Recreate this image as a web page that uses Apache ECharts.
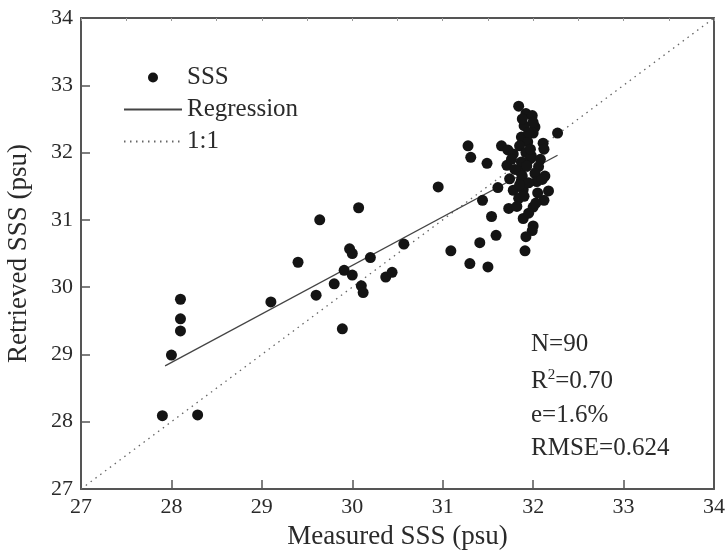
<!DOCTYPE html>
<html>
<head>
<meta charset="utf-8">
<script src="https://cdn.jsdelivr.net/npm/echarts@6/dist/echarts.min.js"></script>
<style>
html,body{margin:0;padding:0;background:#fff;}
#chart{width:726px;height:552px;}
</style>
</head>
<body>
<div id="chart"></div>
<script>
// Measured SSS (x) and Retrieved SSS (y), psu
var measured = [
  28.10, 28.10, 28.10, 29.10, 29.40, 29.64, 30.07, 29.60, 29.80, 29.89,
  29.91, 29.97, 30.00, 30.00, 30.10, 30.12, 30.20, 30.37, 30.44, 30.57,
  28.00, 27.90, 28.29,
  31.84, 31.92, 31.99, 32.02, 32.27, 32.00, 31.87, 31.28, 31.31, 31.65,
  31.72, 31.78, 31.94, 32.11, 32.12, 31.49, 31.71, 31.87, 31.97, 32.06,
  31.86, 32.02, 32.13, 32.04, 31.74, 31.87, 30.95, 31.61, 31.78, 31.89,
  32.17, 31.84, 31.44, 32.12, 31.73, 32.00, 31.89, 31.54, 32.00, 31.99,
  31.92, 31.59, 31.41, 31.09, 31.91, 31.30, 31.50,
  31.90, 31.95, 31.85, 31.92, 31.98, 31.80, 31.88, 31.95, 32.05, 31.90,
  31.82, 31.95, 32.08, 31.93, 32.00, 31.88, 31.76, 32.10, 31.85, 31.97,
  32.03
];
var retrieved = [
  29.82, 29.53, 29.35, 29.78, 30.37, 31.00, 31.18, 29.88, 30.05, 29.38,
  30.25, 30.57, 30.50, 30.18, 30.02, 29.92, 30.44, 30.15, 30.22, 30.64,
  28.99, 28.09, 28.10,
  32.69, 32.58, 32.55, 32.38, 32.29, 32.29, 32.23, 32.10, 31.93, 32.10,
  32.04, 31.98, 32.16, 32.14, 32.05, 31.84, 31.81, 31.86, 31.91, 31.79,
  31.71, 31.69, 31.65, 31.57, 31.61, 31.59, 31.49, 31.48, 31.44, 31.45,
  31.43, 31.32, 31.29, 31.29, 31.17, 31.19, 31.02, 31.05, 30.91, 30.84,
  30.75, 30.77, 30.66, 30.54, 30.54, 30.35, 30.30,
  32.40, 32.30, 32.10, 32.00, 31.95, 31.75, 31.65, 31.55, 31.40, 31.35,
  31.20, 31.10, 31.90, 31.80, 32.45, 32.50, 31.90, 31.60, 31.52, 32.05,
  31.25
];
// Regression line end points and 1:1 line
var regressionX = [27.93, 32.27];
var regressionY = [28.83, 31.96];
var oneToOneX = [27, 34];
var oneToOneY = [27, 34];
var xTicks = [27, 28, 29, 30, 31, 32, 33, 34];
var yTicks = [27, 28, 29, 30, 31, 32, 33, 34];
var stats = ['N=90', 'R2=0.70', 'e=1.6%', 'RMSE=0.624'];

var FONT = '"Liberation Serif", "DejaVu Serif", serif';
var AX = '#555';
var TXT = '#2a2a2a';

var pts = measured.map(function (v, i) { return [v, retrieved[i]]; });
var reg = regressionX.map(function (v, i) { return [v, regressionY[i]]; });
var one = oneToOneX.map(function (v, i) { return [v, oneToOneY[i]]; });

var chart = echarts.init(document.getElementById('chart'), null, {renderer: 'canvas'});
var labelStyle = {fontFamily: FONT, fontSize: 22, color: TXT};

chart.setOption({
  animation: false,
  backgroundColor: '#fff',
  grid: {left: 81, right: 12, top: 18, bottom: 63, containLabel: false, outerBoundsMode: 'none'},
  xAxis: [{
    type: 'value', min: xTicks[0], max: xTicks[xTicks.length - 1], interval: 1,
    name: 'Measured SSS (psu)', nameLocation: 'middle', nameGap: 34, nameMoveOverlap: false,
    nameTextStyle: {fontFamily: FONT, fontSize: 27, color: TXT},
    axisLine: {show: true, onZero: false, lineStyle: {color: AX, width: 2}},
    axisTick: {show: true, inside: true, length: 9, lineStyle: {color: AX, width: 1.5}},
    axisLabel: Object.assign({margin: 7}, labelStyle),
    splitLine: {show: false}
  }, {
    type: 'value', position: 'top', min: 27, max: 34, interval: 0.5,
    axisLine: {show: true, onZero: false, lineStyle: {color: AX, width: 2}},
    axisTick: {show: true, inside: true, length: 3, lineStyle: {color: '#999', width: 1}},
    axisLabel: {show: false}, splitLine: {show: false}
  }],
  yAxis: [{
    type: 'value', min: yTicks[0], max: yTicks[yTicks.length - 1], interval: 1,
    name: 'Retrieved SSS (psu)', nameLocation: 'middle', nameGap: 49, nameMoveOverlap: false,
    nameTextStyle: {fontFamily: FONT, fontSize: 27, color: TXT},
    axisLine: {show: true, onZero: false, lineStyle: {color: AX, width: 2}},
    axisTick: {show: true, inside: true, length: 9, lineStyle: {color: AX, width: 1.5}},
    axisLabel: Object.assign({margin: 8}, labelStyle),
    splitLine: {show: false}
  }, {
    type: 'value', position: 'right', min: 27, max: 34, interval: 1,
    axisLine: {show: true, onZero: false, lineStyle: {color: AX, width: 2}},
    axisTick: {show: false}, axisLabel: {show: false}, splitLine: {show: false}
  }],
  legend: {
    orient: 'vertical', left: 118, top: 60, itemWidth: 58, itemHeight: 10, itemGap: 7,
    textStyle: {fontFamily: FONT, fontSize: 25, color: TXT},
    data: [
      {name: 'SSS', icon: 'circle'},
      {name: 'Regression', itemStyle: {opacity: 0}},
      {name: '1:1', itemStyle: {opacity: 0}}
    ]
  },
  series: [
    {
      name: '1:1', type: 'line', data: one, symbol: 'none', silent: true,
      itemStyle: {color: '#666'},
      lineStyle: {color: '#666', width: 1.3, type: [1.5, 4.5]}, z: 1
    },
    {
      name: 'Regression', type: 'line', data: reg, symbol: 'none', silent: true,
      itemStyle: {color: '#444'},
      lineStyle: {color: '#444', width: 1.3}, z: 2
    },
    {
      name: 'SSS', type: 'scatter', data: pts, symbol: 'circle', symbolSize: 11,
      itemStyle: {color: '#141414', opacity: 1}, z: 3
    }
  ],
  graphic: [{
    type: 'group', left: 531, top: 332,
    children: [
      {type: 'text', left: 0, top: 0, style: {text: stats[0], font: '25px ' + FONT, fill: TXT}},
      {type: 'text', left: 0, top: 36, style: {
        text: '{b|R}{s|2}{b|=0.70}',
        rich: {
          b: {font: '25px ' + FONT, fill: TXT, color: TXT},
          s: {font: '15px ' + FONT, fill: TXT, color: TXT, verticalAlign: 'top', padding: [0, 0, 12, 0]}
        }
      }},
      {type: 'text', left: 0, top: 71, style: {text: stats[2], font: '25px ' + FONT, fill: TXT}},
      {type: 'text', left: 0, top: 104, style: {text: stats[3], font: '25px ' + FONT, fill: TXT}}
    ]
  }]
});
</script>
</body>
</html>
